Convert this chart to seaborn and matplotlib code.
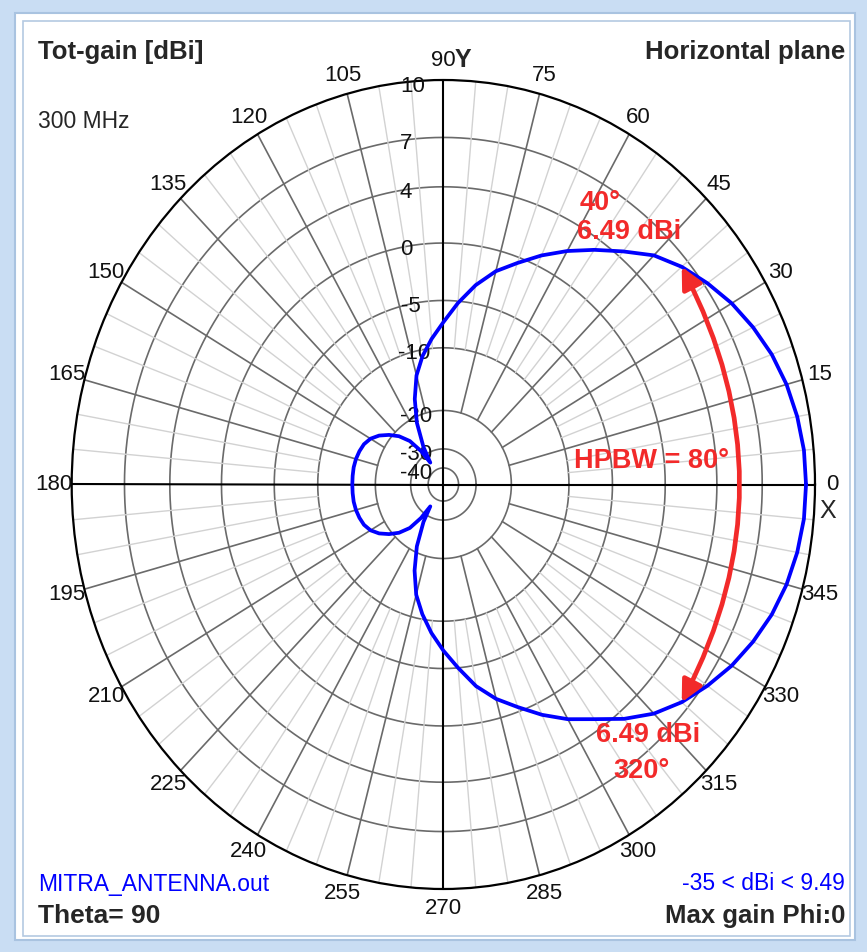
import numpy as np
import pandas as pd
import matplotlib.pyplot as plt
import seaborn as sns
from matplotlib.patches import Rectangle

sns.set_style('white')
plt.rcParams['font.family'] = ['Liberation Sans', 'DejaVu Sans']

# horizontal-plane gain pattern (dBi)
phi_deg = [0, 5, 10, 15, 20, 25, 30, 35, 40, 45, 50, 55, 60, 65, 70, 75, 80, 85, 90,
           95, 100, 105, 110, 115, 120, 123, 126, 130, 135, 140, 145, 150, 155, 160,
           165, 170, 175, 180, 185, 190, 195, 200, 205, 210, 215, 220, 225, 230, 234,
           237, 240, 245, 250, 255, 260, 265, 270, 275, 280, 285, 290, 295, 300, 305,
           310, 315, 320, 325, 330, 335, 340, 345, 350, 355, 360]
gain_dbi = [9.49, 9.45, 9.3, 9.07, 8.74, 8.3, 7.8, 7.2, 6.49, 5.6, 4.4, 3.2, 2.0, 0.8,
            -0.5, -1.8, -3.4, -5.2, -7.3, -9.0, -11.0, -13.8, -17.3, -21.5, -28.0, -35.0,
            -28.5, -24.5, -21.5, -19.5, -18.2, -17.2, -16.6, -16.3, -16.1, -16.0, -16.0,
            -16.0, -16.0, -16.0, -16.1, -16.3, -16.6, -17.2, -18.2, -19.5, -21.5, -24.5,
            -28.5, -35.0, -28.0, -21.5, -17.2, -13.6, -10.8, -8.7, -6.9, -5.0, -3.2, -1.7,
            -0.4, 0.9, 2.1, 3.2, 4.5, 5.6, 6.49, 7.2, 7.8, 8.3, 8.74, 9.07, 9.3, 9.45, 9.49]

ring_db = [10, 7, 4, 0, -5, -10, -20, -30, -40]
ring_labels = ['10', '7', '4', '0', '-5', '-10', '-20', '-30', '-40']
ring_label_dx = [-18, -31, -31, -31, -23, -13, -11, -11, -11]
angle_labels = list(range(0, 360, 15))

# non-linear radial scale of the chart (dB -> fraction of radius)
scale_db = [-50, -40, -30, -20, -10, -5, 0, 4, 7, 10, 14]
scale_r = [0.0, 0.041, 0.088, 0.183, 0.338, 0.455, 0.597, 0.736, 0.858, 1.0, 1.19]


def fwd(v):
    return np.interp(v, scale_db, scale_r)


def inv(r):
    return np.interp(r, scale_r, scale_db)


W, H = 867, 952
fig = plt.figure(figsize=(W / 100, H / 100), dpi=100)


def fx(x):
    return x / W


def fy(y):
    return 1 - y / H


# window frame
fig.patches.append(Rectangle((0, 0), 1, 1, transform=fig.transFigure,
                             facecolor='#c9ddf3', edgecolor='none', zorder=-10))
fig.patches.append(Rectangle((fx(15), fy(940)), fx(855) - fx(15), fy(13) - fy(940),
                             transform=fig.transFigure, facecolor='white',
                             edgecolor='#a9c3e0', lw=1.5, zorder=-9))
fig.patches.append(Rectangle((fx(23), fy(936)), fx(850) - fx(23), fy(21) - fy(936),
                             transform=fig.transFigure, facecolor='white',
                             edgecolor='#b4c9e2', lw=1.2, zorder=-8))

ax = fig.add_axes([fx(71.7), fy(889), fx(815) - fx(71.7), fy(80) - fy(889)],
                  projection='polar')
ax.set_aspect('auto')
ax.set_rscale('function', functions=(fwd, inv))
ax.set_rlim(-50, 10)
ax.grid(False)
ax.set_facecolor('white')
ax.spines['polar'].set_color('black')
ax.spines['polar'].set_linewidth(1.6)

theta_full = np.linspace(0, 2 * np.pi, 721)
for v in ring_db[1:]:
    ax.plot(theta_full, np.full_like(theta_full, v), color='#6a6a6a', lw=1.2, zorder=1)

for a in range(0, 360, 5):
    t = np.deg2rad(a)
    if a % 90 == 0:
        ax.plot([t, t], [-50, 10], color='black', lw=1.5, zorder=2)
    elif a % 15 == 0:
        ax.plot([t, t], [-20, 10], color='#6a6a6a', lw=1.2, zorder=1.5)
    else:
        ax.plot([t, t], [-10, 10], color='#d2d2d2', lw=1.0, zorder=1)

df = pd.DataFrame({'phi': np.deg2rad(phi_deg), 'gain': gain_dbi})
sns.lineplot(data=df, x='phi', y='gain', sort=False, estimator=None,
             color='#0000ff', lw=2.7, ax=ax, zorder=4)
ax.set_xlabel('')
ax.set_ylabel('')
ax.set_xticks([])
ax.set_yticks([])
ax.set_rlim(-50, 10)

for v, lab, dx in zip(ring_db, ring_labels, ring_label_dx):
    ax.annotate(lab, xy=(np.pi / 2, v), xytext=(dx, -6), textcoords='offset pixels',
                ha='right', va='center', fontsize=16, color='#111111', zorder=3)

for a in angle_labels:
    ax.text(np.deg2rad(a), 11.0, str(a), ha='center', va='center', fontsize=16,
            color='#111111')

fig.text(fx(455), fy(60), 'Y', ha='left', va='center', fontsize=18, fontweight='bold')
fig.text(fx(828), fy(511), 'X', ha='center', va='center', fontsize=18)

# HPBW arrow
red = '#f22a2a'
ax.annotate('', xy=(np.deg2rad(40), 6.49), xytext=(np.deg2rad(320), 6.49),
            arrowprops=dict(arrowstyle='<|-|>', connectionstyle='arc3,rad=0.26',
                            color=red, lw=3.4, mutation_scale=32,
                            shrinkA=0, shrinkB=0), zorder=5)

fig.text(fx(580), fy(203), '40°', ha='left', va='center', fontsize=19.5,
         fontweight='bold', color=red)
fig.text(fx(577), fy(232), '6.49 dBi', ha='left', va='center', fontsize=19.5,
         fontweight='bold', color=red)
fig.text(fx(652), fy(461), 'HPBW = 80°', ha='center', va='center', fontsize=19.5,
         fontweight='bold', color=red)
fig.text(fx(648), fy(735), '6.49 dBi', ha='center', va='center', fontsize=19.5,
         fontweight='bold', color=red)
fig.text(fx(641), fy(771), '320°', ha='center', va='center', fontsize=19.5,
         fontweight='bold', color=red)

# corner captions
fig.text(fx(38), fy(52), 'Tot-gain [dBi]', ha='left', va='center', fontsize=18.5,
         fontweight='bold')
fig.text(fx(845), fy(52), 'Horizontal plane', ha='right', va='center', fontsize=18.5,
         fontweight='bold')
fig.text(fx(38), fy(122), '300 MHz', ha='left', va='center', fontsize=16.5)
fig.text(fx(38), fy(884), 'MITRA_ANTENNA.out', ha='left', va='center', fontsize=16.5,
         color='#0000ff')
fig.text(fx(38), fy(916), 'Theta= 90', ha='left', va='center', fontsize=19,
         fontweight='bold')
fig.text(fx(845), fy(884), '-35 < dBi < 9.49', ha='right', va='center', fontsize=16.5,
         color='#0000ff')
fig.text(fx(845), fy(916), 'Max gain Phi:0', ha='right', va='center', fontsize=18.5,
         fontweight='bold')

fig.savefig('out.png', dpi=100)
